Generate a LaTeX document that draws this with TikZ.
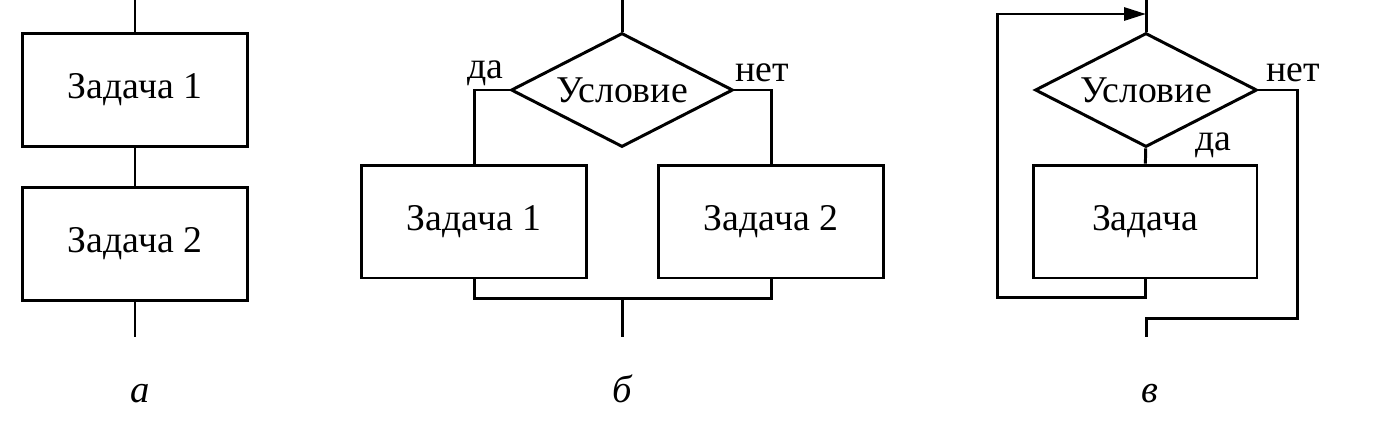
\documentclass[tikz,border=0pt]{standalone}
\usepackage{fontspec}
\setmainfont{Liberation Serif}
\usetikzlibrary{positioning,shapes.geometric,arrows.meta}
\newcommand{\boxfont}{\fontsize{21.5}{25}\selectfont}
\tikzset{
	task/.style={draw, minimum width=4.5cm, minimum height=2.26cm, inner sep=0pt, font=\boxfont},
	cond/.style={draw, diamond, aspect=1.95, minimum width=4.44cm, minimum height=2.28cm, inner sep=0pt, font=\boxfont},
	lbl/.style={inner sep=0pt, font=\boxfont},
	subcap/.style={inner sep=0pt, anchor=base, font=\fontsize{22}{26}\selectfont\itshape},
	flow/.style={-{Triangle[length=0.44cm,width=0.26cm]}},
}

\begin{document}
\begin{tikzpicture}[x=0.02cm, y=0.02cm, line width=1.7pt]
	\useasboundingbox (0,0) rectangle (1391,-440);

	% a
	\coordinate (aTop) at (135,0);
	\node[task] (a1) at (135,-90) {Задача 1};
	\node[task, below=0.76cm of a1] (a2) {Задача 2};
	\coordinate (aBot) at (135,-337);
	\draw (aTop) -- (a1);
	\draw (a1) -- (a2);
	\draw (a2) -- (aBot);
	\node[subcap] (aCap) at (140,-402) {а};

	% b
	\coordinate (bTop) at (622,0);
	\node[cond] (bCond) at (622,-90) {Условие};
	\node[task] (b1) at (474,-221.5) {Задача 1};
	\node[task] (b2) at (771,-221.5) {Задача 2};
	\coordinate (bJoin) at (622,-298);
	\coordinate (bBot) at (622,-337);
	\draw (bTop) -- (bCond);
	\draw (bCond.west) -| (b1.north);
	\draw (bCond.east) -| (b2.north);
	\draw (b1.south) |- (bJoin) -| (b2.south);
	\draw (bJoin) -- (bBot);
	\node[lbl] (bYes) at (485,-73) {да};
	\node[lbl] (bNo) at (762,-73) {нет};
	\node[subcap] (bCap) at (622,-402) {б};

	% c
	\coordinate (cTop) at (1146,0);
	\coordinate (cIn) at (1146,-14);
	\node[cond] (cCond) at (1146,-90) {Условие};
	\node[task, minimum width=4.48cm] (cTask) at (1145,-221.5) {Задача};
	\coordinate (cLoop) at (997,-297);
	\coordinate (cExit) at (1297,-318);
	\coordinate (cBot) at (1146,-337);
	\draw (cTop) -- (cCond);
	\draw (cCond) -- (cTask);
	\draw[flow] (cTask.south) |- (cLoop) |- (cIn);
	\draw (cCond.east) -| (cExit) -| (cBot);
	\node[lbl] (cYes) at (1213,-145) {да};
	\node[lbl] (cNo) at (1293,-73) {нет};
	\node[subcap] (cCap) at (1150,-402) {в};
\end{tikzpicture}
\end{document}
